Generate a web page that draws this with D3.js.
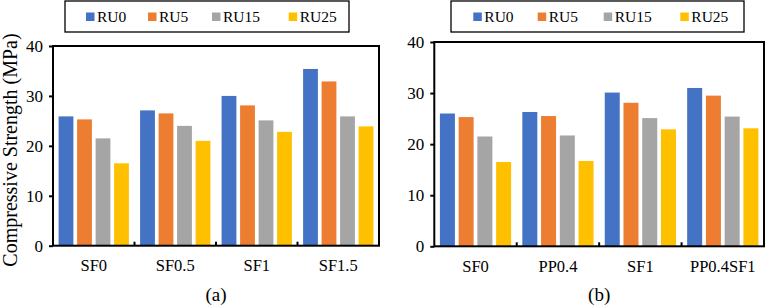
<!DOCTYPE html>
<html>
<head>
<meta charset="utf-8">
<script src="https://cdn.jsdelivr.net/npm/d3@7"></script>
<style>
  body { margin: 0; background: #fff; }
</style>
</head>
<body>
<div id="chart"></div>
<script>
// data
var series = ["RU0", "RU5", "RU15", "RU25"];
var colors = ["#4472C4", "#ED7D31", "#A5A5A5", "#FFC000"];
var yTicks = [0, 10, 20, 30, 40];

var catsA = ["SF0", "SF0.5", "SF1", "SF1.5"];
var ru0A  = [25.9, 27.1, 30.0, 35.4];
var ru5A  = [25.3, 26.5, 28.1, 32.9];
var ru15A = [21.5, 24.0, 25.1, 25.9];
var ru25A = [16.5, 21.0, 22.8, 23.9];

var catsB = ["SF0", "PP0.4", "SF1", "PP0.4SF1"];
var ru0B  = [26.0, 26.3, 30.1, 31.0];
var ru5B  = [25.3, 25.5, 28.1, 29.5];
var ru15B = [21.5, 21.7, 25.1, 25.4];
var ru25B = [16.5, 16.7, 22.9, 23.1];

var font = "Liberation Serif";
var w = 766, h = 308;
var svg = d3.select("#chart").append("svg")
  .attr("width", w).attr("height", h)
  .attr("font-family", font);

function panel(cats, vals, box, legendBox, legendX, caption) {
  var g = svg.append("g");

  var x = d3.scaleBand().domain(cats).range([box.x0, box.x1]).paddingInner(0).paddingOuter(0);
  var groupPad = 5.6;
  var xs = d3.scaleBand().domain(series)
    .range([groupPad, x.bandwidth() - groupPad]).paddingInner(0.2);
  var y = d3.scaleLinear().domain([0, 40]).range([box.y1, box.y0]);

  // bars
  series.forEach(function(s, si) {
    g.selectAll(null).data(vals[si]).enter().append("rect")
      .attr("x", function(d, i) { return x(cats[i]) + xs(s); })
      .attr("y", function(d) { return y(d); })
      .attr("width", xs.bandwidth())
      .attr("height", function(d) { return y(0) - y(d); })
      .attr("fill", colors[si]);
  });

  // frame
  g.append("rect")
    .attr("x", box.x0).attr("y", box.y0)
    .attr("width", box.x1 - box.x0).attr("height", box.y1 - box.y0)
    .attr("fill", "none").attr("stroke", "#000").attr("stroke-width", 2);

  // y axis
  var yAxis = d3.axisLeft(y).tickValues(yTicks).tickSize(4).tickPadding(6);
  var ya = g.append("g").attr("transform", "translate(" + box.x0 + ",0)").call(yAxis)
    .attr("font-family", font);
  ya.select(".domain").remove();
  ya.selectAll("line").attr("stroke", "#000").attr("stroke-width", 2);
  ya.selectAll("text").attr("font-family", font).attr("font-size", 17).attr("fill", "#000");

  // x axis: labels + inner boundary ticks
  var xAxis = d3.axisBottom(x).tickSize(0).tickPadding(14);
  var xa = g.append("g").attr("transform", "translate(0," + box.y1 + ")").call(xAxis)
    .attr("font-family", font);
  xa.select(".domain").remove();
  xa.selectAll("text").attr("font-family", font).attr("font-size", 16.5).attr("fill", "#000");
  g.selectAll(null).data(cats.slice(1)).enter().append("line")
    .attr("x1", function(d) { return x(d); }).attr("x2", function(d) { return x(d); })
    .attr("y1", box.y1).attr("y2", box.y1 - 4)
    .attr("stroke", "#000").attr("stroke-width", 2);

  // legend
  g.append("rect")
    .attr("x", legendBox.x0).attr("y", legendBox.y0)
    .attr("width", legendBox.x1 - legendBox.x0).attr("height", legendBox.y1 - legendBox.y0)
    .attr("fill", "#fff").attr("stroke", "#000").attr("stroke-width", 1.3);
  series.forEach(function(s, si) {
    g.append("rect").attr("x", legendX[si]).attr("y", 12.5)
      .attr("width", 8.5).attr("height", 8.5).attr("fill", colors[si]);
    g.append("text").attr("x", legendX[si] + 11).attr("y", 21.5)
      .attr("font-family", font).attr("font-size", 15.5).text(s);
  });

  // caption
  g.append("text").attr("x", (box.x0 + box.x1) / 2).attr("y", 301)
    .attr("text-anchor", "middle")
    .attr("font-family", font).attr("font-size", 19).text(caption);
}

panel(catsA, [ru0A, ru5A, ru15A, ru25A],
  { x0: 53, x1: 379, y0: 46, y1: 245.7 },
  { x0: 65, x1: 349, y0: 1, y1: 32 },
  [86, 148, 212, 288.7], "(a)");

panel(catsB, [ru0B, ru5B, ru15B, ru25B],
  { x0: 434.3, x1: 764, y0: 42, y1: 246.3 },
  { x0: 451, x1: 744, y0: 1, y1: 32 },
  [473.3, 537.7, 603.7, 680.3], "(b)");

// y axis title
svg.append("text")
  .attr("transform", "translate(17,150) rotate(-90)")
  .attr("text-anchor", "middle")
  .attr("font-family", font).attr("font-size", 20)
  .text("Compressive Strength (MPa)");
</script>
</body>
</html>
